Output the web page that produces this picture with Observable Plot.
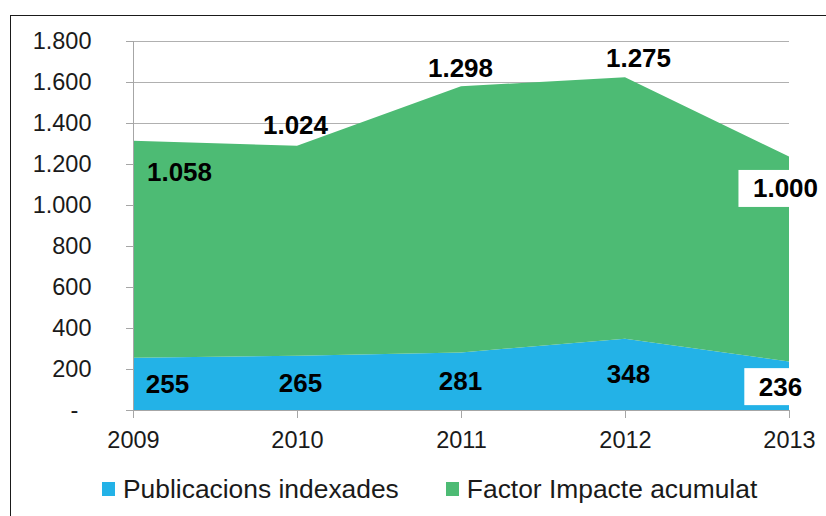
<!DOCTYPE html>
<html>
<head>
<meta charset="utf-8">
<script src="https://cdn.jsdelivr.net/npm/d3@7"></script>
<script src="https://cdn.jsdelivr.net/npm/@observablehq/plot@0.6"></script>
<style>
  html, body { margin: 0; padding: 0; background: #fff; overflow: hidden; }
  #wrap { position: relative; width: 826px; height: 516px; overflow: hidden; font-family: "Liberation Sans", Arial, sans-serif; }
  #frame { position: absolute; left: 10px; top: 15px; width: 900px; height: 600px; border: 1px solid #1a1a1a; box-sizing: border-box; pointer-events: none; }
  #chart svg { display: block; }
  #legend { position: absolute; left: 102px; top: 476px; height: 26px; display: flex; align-items: center; gap: 47px; font-size: 26.4px; line-height: 26px; color: #1a1a1a; }
  .item { display: flex; align-items: center; gap: 8px; white-space: nowrap; }
  .sw { width: 13px; height: 14px; display: inline-block; }
</style>
</head>
<body>
<div id="wrap">
  <div id="chart"></div>
  <div id="legend"></div>
  <div id="frame"></div>
</div>
<script>
// ---- data ----
const years = [2009, 2010, 2011, 2012, 2013];
const seriesNames = ["Publicacions indexades", "Factor Impacte acumulat"];
const publicacions = [255, 265, 281, 348, 236];
const factorImpacte = [1058, 1024, 1298, 1275, 1000];
const yTicks = [0, 200, 400, 600, 800, 1000, 1200, 1400, 1600, 1800];
const seriesColors = ["#23B2E7", "#4DBB74"];

// ---- derived table ----
const rows = [];
years.forEach((yr, i) => rows.push({year: yr, series: seriesNames[0], value: publicacions[i]}));
years.forEach((yr, i) => rows.push({year: yr, series: seriesNames[1], value: factorImpacte[i]}));

const loc = d3.formatLocale({decimal: ",", thousands: ".", grouping: [3], currency: ["", "€"]});
const fmt = loc.format(",d");
const fmtY = d => d === 0 ? "-\u00a0\u00a0" : fmt(d);

// label styling nudges (pixel offsets, like a manually arranged spreadsheet chart)
const greenNudge = [[46, 31], [-2, -21], [-1, -18], [13, -19], [-4, 32]];
const blueNudge = [[34, 0], [3, 0], [-1, 0], [3, 0], [-9, 1]];
const boxed = [false, false, false, false, true];

const labelMarks = [];
years.forEach((yr, i) => {
  const top = publicacions[i] + factorImpacte[i];
  labelMarks.push(Plot.text([{year: yr, y: top, t: fmt(factorImpacte[i])}], {
    x: "year", y: "y", text: "t", dx: greenNudge[i][0], dy: greenNudge[i][1],
    fontSize: 26, fontWeight: "bold", fill: "#000",
    ariaLabel: () => boxed[i] ? "boxed" : "label"
  }));
  labelMarks.push(Plot.text([{year: yr, y: publicacions[i] / 2, t: fmt(publicacions[i])}], {
    x: "year", y: "y", text: "t", dx: blueNudge[i][0], dy: blueNudge[i][1],
    fontSize: 26, fontWeight: "bold", fill: "#000",
    ariaLabel: () => boxed[i] ? "boxed" : "label"
  }));
});

const chart = Plot.plot({
  width: 826,
  height: 460,
  marginLeft: 133,
  marginRight: 37,
  marginTop: 41,
  marginBottom: 50,
  style: {fontFamily: "Liberation Sans, Arial, sans-serif", background: "transparent", overflow: "visible"},
  x: {domain: [2009, 2013]},
  y: {domain: [0, 1800]},
  color: {domain: seriesNames, range: seriesColors},
  marks: [
    Plot.ruleY(yTicks.filter(d => d > 0), {stroke: "#b0b0b0", strokeWidth: 1}),
    Plot.areaY(rows, {x: "year", y: "value", fill: "series", z: "series"}),
    Plot.ruleY([0], {stroke: "#a6a6a6"}),
    Plot.ruleX([2009], {stroke: "#a6a6a6"}),
    Plot.axisY(yTicks, {tickSize: 7, tickPadding: 35, tickFormat: fmtY, fontSize: 23.5, stroke: "#a6a6a6", fill: "#1a1a1a", label: null}),
    Plot.axisX(years, {tickSize: 8, tickPadding: 13, tickFormat: "d", fontSize: 23.5, stroke: "#a6a6a6", fill: "#1a1a1a", label: null}),
    ...labelMarks
  ]
});

document.getElementById("chart").appendChild(chart);

// white background boxes behind selected labels
const targets = [];
chart.querySelectorAll('[aria-label="boxed"]').forEach(el => {
  if (el.tagName.toLowerCase() === "text") targets.push(el);
  else el.querySelectorAll("text").forEach(t => targets.push(t));
});
targets.forEach(t => {
  const b = t.getBBox();
  const r = document.createElementNS("http://www.w3.org/2000/svg", "rect");
  r.setAttribute("x", b.x - 14.5);
  r.setAttribute("y", b.y - 3.5);
  r.setAttribute("width", b.width + 29);
  r.setAttribute("height", b.height + 7);
  r.setAttribute("fill", "#fff");
  const tr = t.getAttribute("transform");
  if (tr) r.setAttribute("transform", tr);
  t.parentNode.insertBefore(r, t);
});

// legend
const legend = document.getElementById("legend");
seriesNames.forEach((name, i) => {
  const it = document.createElement("div");
  it.className = "item";
  const sw = document.createElement("span");
  sw.className = "sw";
  sw.style.background = seriesColors[i];
  const tx = document.createElement("span");
  tx.textContent = name;
  it.appendChild(sw);
  it.appendChild(tx);
  legend.appendChild(it);
});
</script>
</body>
</html>
